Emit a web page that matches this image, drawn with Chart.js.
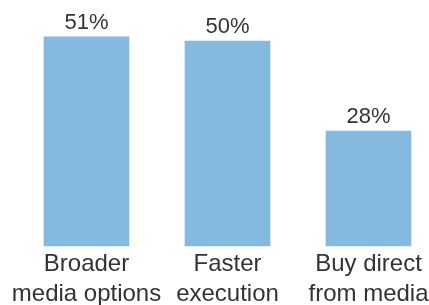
<!DOCTYPE html>
<html>
<head>
<meta charset="utf-8">
<script src="https://cdn.jsdelivr.net/npm/chart.js@4"></script>
<style>
  html, body { margin: 0; padding: 0; background: #fff; }
  #wrap { width: 429px; height: 305px; }
</style>
</head>
<body>
<div id="wrap"><canvas id="chart"></canvas></div>
<script>
// chart data
const categories = [['Broader', 'media options'], ['Faster', 'execution'], ['Buy direct', 'from media']];
const shares = [51, 50, 28];
const valueLabels = ['51%', '50%', '28%'];

// draws the percentage above each bar
const valueLabelPlugin = {
    id: 'valueLabels',
    afterDatasetsDraw(chart) {
        const ctx = chart.ctx;
        const meta = chart.getDatasetMeta(0);
        ctx.save();
        ctx.font = '22px "Liberation Sans", Arial, sans-serif';
        ctx.fillStyle = '#333333';
        ctx.textAlign = 'center';
        ctx.textBaseline = 'alphabetic';
        meta.data.forEach((bar, i) => {
            ctx.fillText(valueLabels[i], bar.x, bar.y - 8);
        });
        ctx.restore();
    }
};

const ctx = document.getElementById('chart').getContext('2d');
new Chart(ctx, {
    type: 'bar',
    data: {
        labels: categories,
        datasets: [{
            data: shares,
            backgroundColor: '#85b9e0',
            barThickness: 85,
            clip: false,
        }],
    },
    options: {
        responsive: true,
        maintainAspectRatio: false,
        animation: false,
        layout: { padding: { left: 86.5, right: 60.5, top: 0, bottom: 0 } },
        plugins: {
            legend: { display: false },
            tooltip: { enabled: false },
        },
        scales: {
            x: {
                offset: false,
                grid: { display: false, drawTicks: false },
                border: { display: false },
                ticks: {
                    autoSkip: false,
                    maxRotation: 0,
                    minRotation: 0,
                    padding: 3,
                    color: '#333333',
                    font: { family: '"Liberation Sans", Arial, sans-serif', size: 24, lineHeight: 1.25 },
                },
                afterFit: (axis) => {
                    axis.height = 59;
                    // labels overflow into the layout padding, don't let them shrink the plot
                    axis.paddingLeft = 0;
                    axis.paddingRight = 0;
                },
            },
            y: {
                display: false,
                min: 0,
                max: 60,
            },
        },
    },
    plugins: [valueLabelPlugin],
});
</script>
</body>
</html>
